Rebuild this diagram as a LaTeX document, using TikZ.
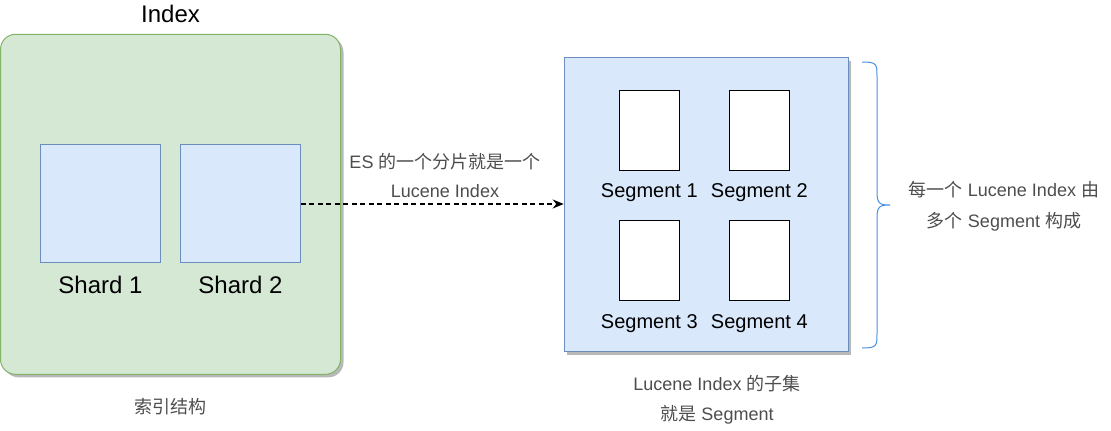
\documentclass[tikz,border=0pt]{standalone}
\usepackage{fontspec}
\setmainfont{Liberation Sans}
\newfontfamily\cjk{Noto Sans CJK SC}
\usetikzlibrary{arrows.meta,shadows}
\newcommand\zh[1]{{\cjk #1}}
\definecolor{grfill}{HTML}{D5E8D4}
\definecolor{grline}{HTML}{82B366}
\definecolor{blfill}{HTML}{DAE8FC}
\definecolor{blline}{HTML}{6C8EBF}
\definecolor{lbl}{HTML}{4D4D4D}
\definecolor{brace}{HTML}{4A90E2}
\tikzset{
  shad/.style={drop shadow={shadow xshift=3pt,shadow yshift=-3pt,fill=black!28,opacity=1}},
  indexbox/.style={draw=grline,fill=grfill,line width=1pt,rounded corners=15pt,minimum width=340pt,minimum height=340pt,inner sep=0pt,shad},
  shardbox/.style={draw=blline,fill=blfill,line width=0.8pt,minimum width=120pt,minimum height=118pt,inner sep=0pt},
  lucbox/.style={draw=blline,fill=blfill,line width=1pt,minimum width=284pt,minimum height=294pt,inner sep=0pt,shad},
  segbox/.style={draw=black,fill=white,line width=1pt,minimum width=60pt,minimum height=80pt,inner sep=0pt},
  big/.style={font=\fontsize{24}{28}\selectfont,inner sep=0pt,anchor=base},
  segtxt/.style={font=\fontsize{20}{24}\selectfont,inner sep=0pt,anchor=base},
  note/.style={font=\fontsize{18}{22}\selectfont,text=lbl,inner sep=0pt,anchor=base},
}
\begin{document}
\begin{tikzpicture}[x=1pt,y=-1pt]
\useasboundingbox (0,0) rectangle (1111,431);
% Index
\node[indexbox] (index) at (170.5,204.3) {};
\node[big] (indext) at (170.5,23) {Index};
\node[shardbox] (s1) at (100.5,203.3) {};
\node[shardbox] (s2) at (240.5,203.3) {};
\node[big] (s1t) at (100.5,293.3) {Shard 1};
\node[big] (s2t) at (240.5,293.3) {Shard 2};
\node[note] (idxnote) at (170.5,413) {\zh{索引结构}};
% Lucene index
\node[lucbox] (luc) at (706.2,204.5) {};
\node[segbox] (g1) at (649.3,130.3) {};
\node[segbox] (g2) at (759.3,130.3) {};
\node[segbox] (g3) at (649.3,260.3) {};
\node[segbox] (g4) at (759.3,260.3) {};
\node[segtxt] (g1t) at (649.3,197) {Segment 1};
\node[segtxt] (g2t) at (759.3,197) {Segment 2};
\node[segtxt] (g3t) at (649.3,328.3) {Segment 3};
\node[segtxt] (g4t) at (759.3,328.3) {Segment 4};
% arrow
\draw[line width=1.5pt,dash pattern=on 5pt off 3.5pt,-{Stealth[length=11pt,width=9pt]}] (s2.east |- 0,204) -- (luc.west |- 0,204);
\node[note] (arr1) at (445,168.3) {ES \zh{的一个分片就是一个}};
\node[note] (arr2) at (445,197.3) {Lucene Index};
% notes
\node[note] (sub1) at (717,390.7) {Lucene Index \zh{的子集}};
\node[note] (sub2) at (717,420) {\zh{就是} Segment};
% brace
\draw[brace,line width=1pt] (862,62) .. controls (877,62) and (877,64) .. (877,77) -- (877,192) .. controls (877,204) and (880,205) .. (890,205)
  .. controls (880,205) and (877,206) .. (877,218) -- (877,333) .. controls (877,346) and (877,348) .. (862,348);
\node[note] (r1) at (1004,196.7) {\zh{每一个} Lucene Index \zh{由}};
\node[note] (r2) at (1004,227.5) {\zh{多个} Segment \zh{构成}};
\end{tikzpicture}
\end{document}
